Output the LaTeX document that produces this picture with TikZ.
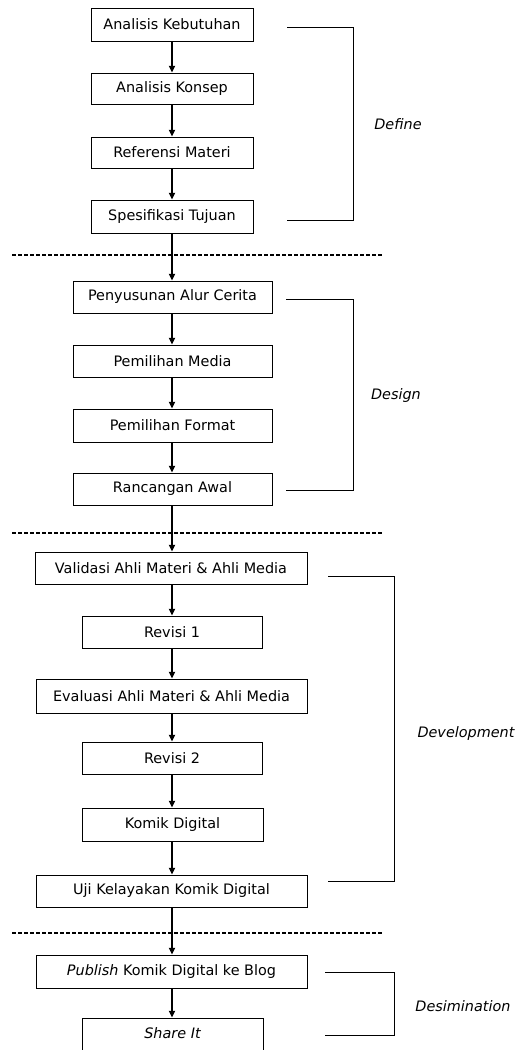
\documentclass[tikz,border=0pt]{standalone}
\usepackage{fontspec}
\setmainfont{DejaVu Sans}
\usetikzlibrary{arrows.meta}
\begin{document}
\begin{tikzpicture}[x=0.75pt,y=-0.75pt,
  stepbox/.style={draw,line width=0.75pt,inner sep=0pt,font=\fontsize{10.8pt}{13pt}\selectfont,anchor=center},
  flow/.style={line width=1.4pt,-{Triangle[length=5pt,width=4.5pt]}},
  bracket/.style={line width=0.7pt},
  sep/.style={line width=1pt,dash pattern=on 3pt off 1.5pt},
  phase/.style={font=\fontsize{10.8pt}{13pt}\selectfont\itshape,anchor=center}]
\useasboundingbox (0,0) rectangle (524,1050);
\clip (0,0) rectangle (524,1050);
\fill[white] (0,0) rectangle (524,1050);
\coordinate (axis) at (172,0);
% Define
\node[stepbox,minimum width=121.5pt,minimum height=24.75pt] (a1) at (172,24.5) {Analisis Kebutuhan};
\node[stepbox,minimum width=121.5pt,minimum height=23.25pt] (a2) at (172,88.5) {Analisis Konsep};
\node[stepbox,minimum width=121.5pt,minimum height=23.25pt] (a3) at (172,152.5) {Referensi Materi};
\node[stepbox,minimum width=121.5pt,minimum height=24.75pt] (a4) at (172,216.5) {Spesifikasi Tujuan};
% Design
\node[stepbox,minimum width=149.25pt,minimum height=24pt] (d1) at (172.5,297) {Penyusunan Alur Cerita};
\node[stepbox,minimum width=149.25pt,minimum height=24pt] (d2) at (172.5,361) {Pemilihan Media};
\node[stepbox,minimum width=149.25pt,minimum height=24.75pt] (d3) at (172.5,425.5) {Pemilihan Format};
\node[stepbox,minimum width=149.25pt,minimum height=24pt] (d4) at (172.5,489) {Rancangan Awal};
% Development
\node[stepbox,minimum width=204pt,minimum height=24pt] (v1) at (171,568) {Validasi Ahli Materi \& Ahli Media};
\node[stepbox,minimum width=135pt,minimum height=24pt] (v2) at (172,632) {Revisi 1};
\node[stepbox,minimum width=203.25pt,minimum height=25.5pt] (v3) at (171.5,696) {Evaluasi Ahli Materi \& Ahli Media};
\node[stepbox,minimum width=135pt,minimum height=24pt] (v4) at (172,758) {Revisi 2};
\node[stepbox,minimum width=135.75pt,minimum height=24.75pt] (v5) at (172.5,824.5) {Komik Digital};
\node[stepbox,minimum width=203.25pt,minimum height=24pt] (v6) at (171.5,891) {Uji Kelayakan Komik Digital};
% Desimination
\node[stepbox,minimum width=203.25pt,minimum height=24.75pt] (p1) at (171.5,971.5) {\textit{Publish} Komik Digital ke Blog};
\node[stepbox,minimum width=135.75pt,minimum height=33pt,text depth=0pt] (p2) at (172.5,1040) {};
\node[font=\fontsize{10.8pt}{13pt}\selectfont\itshape] (p2t) at (172.5,1033.5) {Share It};
% arrows
\foreach \u/\v in {a1/a2,a2/a3,a3/a4,a4/d1,d1/d2,d2/d3,d3/d4,d4/v1,v1/v2,v2/v3,v3/v4,v4/v5,v5/v6,v6/p1,p1/p2}
  \draw[flow] (\u.south -| axis) -- (\v.north -| axis);
% separators
\coordinate (s1l) at (12,255); \coordinate (s1r) at (383,255);
\coordinate (s2l) at (12,533); \coordinate (s2r) at (383,533);
\coordinate (s3l) at (12,933); \coordinate (s3r) at (383,933);
\draw[sep] (s1l) -- (s1r);
\draw[sep] (s2l) -- (s2r);
\draw[sep] (s3l) -- (s3r);
% brackets
\draw[bracket] (287,27) -- (353,27) -- (353,220) -- (287,220);
\draw[bracket] (286,299) -- (353,299) -- (353,490) -- (286,490);
\draw[bracket] (328,576) -- (394,576) -- (394,881) -- (328,881);
\draw[bracket] (325,972) -- (394,972) -- (394,1035) -- (325,1035);
% phase labels
\node[phase] (l1) at (398,124) {Define};
\node[phase] (l2) at (396,396) {Design};
\node[phase] (l3) at (466,734) {Development};
\node[phase] (l4) at (463,1006) {Desimination};
\end{tikzpicture}
\end{document}
